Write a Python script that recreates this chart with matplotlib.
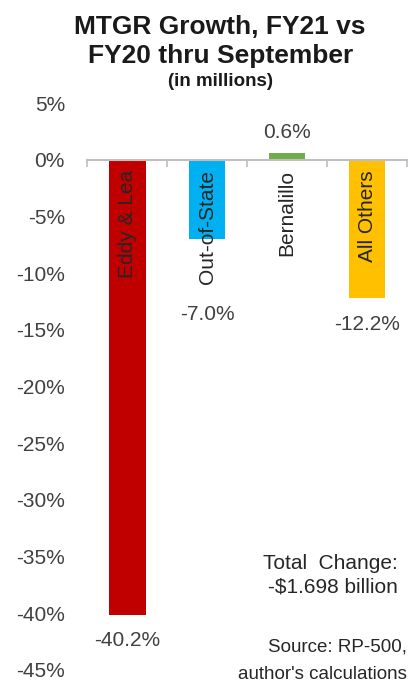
import numpy as np
import matplotlib.pyplot as plt
from matplotlib.ticker import FuncFormatter

plt.rcParams['font.family'] = ['Liberation Sans', 'DejaVu Sans']

# Data
regions = ['Eddy & Lea', 'Out-of-State', 'Bernalillo', 'All Others']
growth = [-40.2, -7.0, 0.6, -12.2]  # percent
value_labels = ['-40.2%', '-7.0%', '0.6%', '-12.2%']
y_ticks = [5, 0, -5, -10, -15, -20, -25, -30, -35, -40, -45]

colors = ['#C00000', '#00B0F0', '#70AD47', '#FFC000']
# label offsets in points (Out-of-State label sits below its rotated name)
label_offsets = [-18, -54, 15, -19]

fig = plt.figure(figsize=(4.17, 6.87), dpi=100)
ax = fig.add_axes([0.209, 0.025, 0.767, 0.825])

x = np.arange(len(regions))
ax.bar(x, growth, width=0.46, color=colors, zorder=2)

for xi, name, v, lab, off in zip(x, regions, growth, value_labels, label_offsets):
    ax.text(xi, -0.9, name, rotation=90, ha='center', va='top',
            fontsize=15, color='#262626', zorder=3)
    ax.annotate(lab, (xi, v), xytext=(0, off), textcoords='offset points',
                ha='center', va='center', fontsize=15, color='#404040')

ax.set_xlim(-0.5, 3.5)
ax.set_ylim(-45, 5)
ax.set_yticks(y_ticks)
ax.yaxis.set_major_formatter(FuncFormatter(lambda v, pos: '{:.0f}%'.format(v)))
ax.tick_params(axis='y', length=0, pad=16, labelsize=15, labelcolor='#404040')

# zero line with category separators
for s in ['top', 'right', 'left']:
    ax.spines[s].set_visible(False)
ax.spines['bottom'].set_position(('data', 0))
ax.spines['bottom'].set_color('#BFBFBF')
ax.spines['bottom'].set_linewidth(1.5)
ax.set_xticks([-0.5, 0.5, 1.5, 2.5, 3.5])
ax.set_xticklabels([])
ax.tick_params(axis='x', direction='out', length=5, width=1.2, color='#BFBFBF')

fig.text(0.528, 0.961, 'MTGR Growth, FY21 vs', ha='center', va='center',
         fontsize=19, fontweight='bold', color='#1a1a1a')
fig.text(0.528, 0.918, 'FY20 thru September', ha='center', va='center',
         fontsize=19, fontweight='bold', color='#1a1a1a')
fig.text(0.528, 0.882, '(in millions)', ha='center', va='center',
         fontsize=13.5, fontweight='bold', color='#1a1a1a')

fig.text(0.955, 0.180, 'Total  Change:', ha='right', va='center',
         fontsize=15, color='#262626')
fig.text(0.955, 0.145, '-$1.698 billion', ha='right', va='center',
         fontsize=15, color='#262626')
fig.text(0.975, 0.058, 'Source: RP-500,', ha='right', va='center',
         fontsize=13.5, color='#262626')
fig.text(0.975, 0.018, "author's calculations", ha='right', va='center',
         fontsize=13.5, color='#262626')

plt.savefig('out.png', dpi=100)
